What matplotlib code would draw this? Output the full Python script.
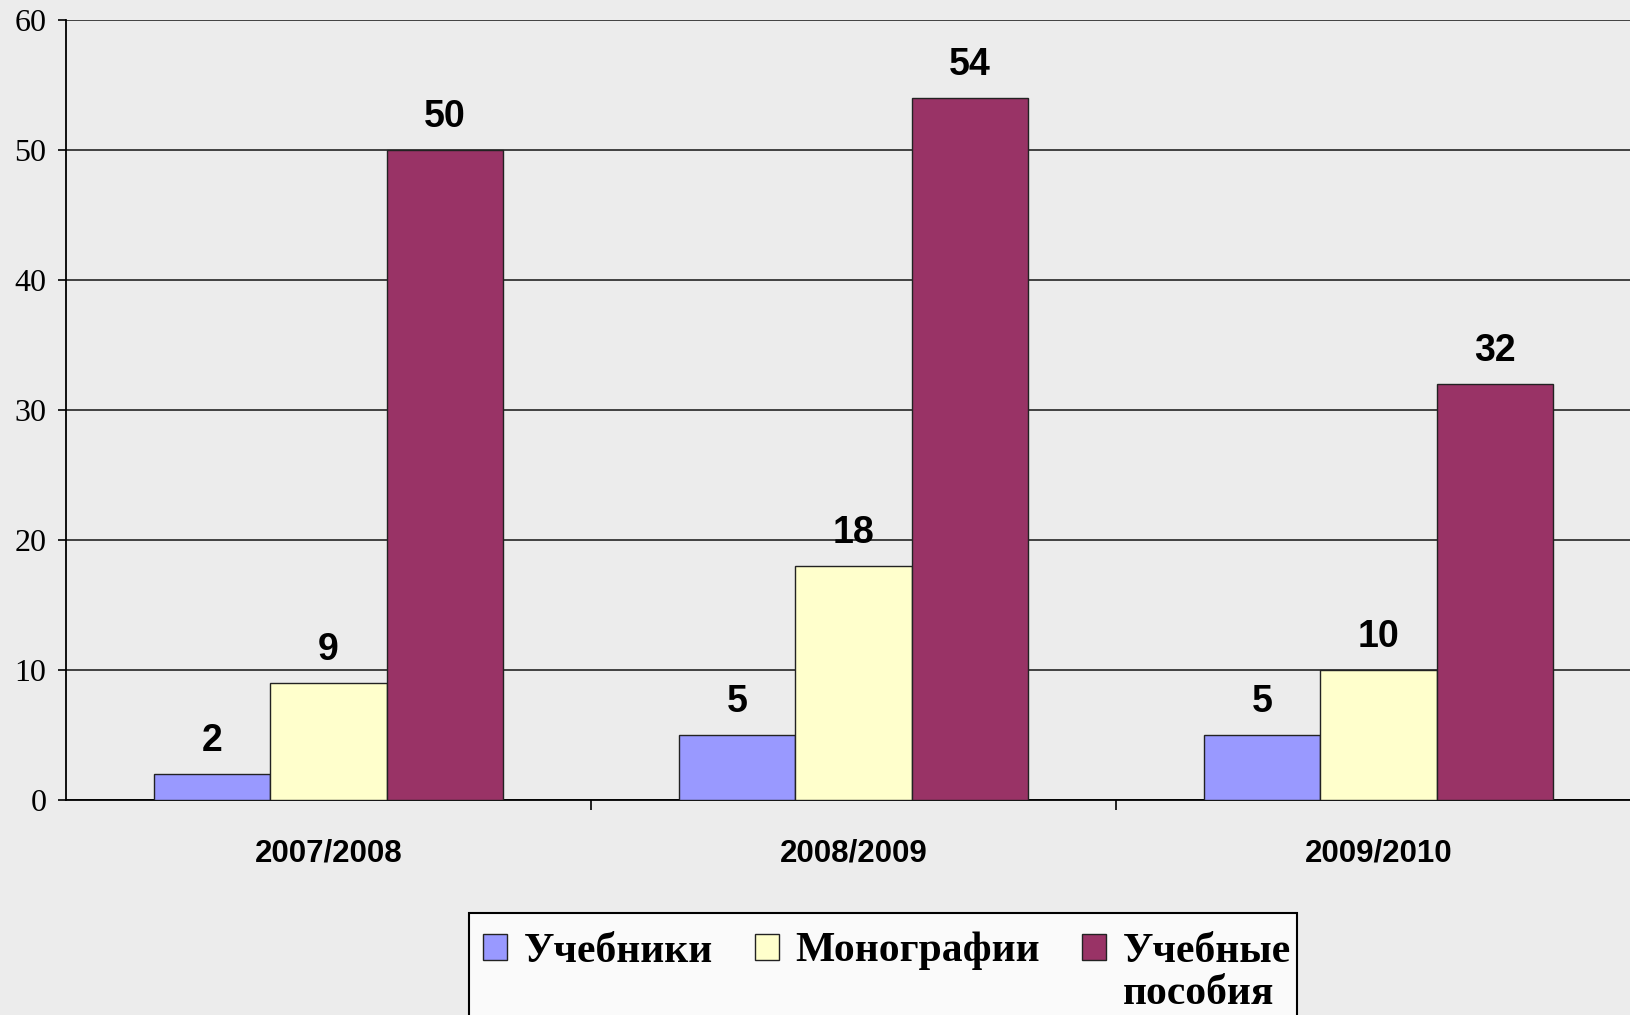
import numpy as np
import matplotlib.pyplot as plt
from matplotlib.ticker import FixedLocator
from matplotlib.patches import Rectangle

# Data
years = ['2007/2008', '2008/2009', '2009/2010']
textbooks = [2, 5, 5]          # Учебники
monographs = [9, 18, 10]       # Монографии
study_guides = [50, 54, 32]    # Учебные пособия

series_names = ['Учебники', 'Монографии', 'Учебные']
series_colors = ['#9999ff', '#ffffcc', '#993366']

W, H = 1630, 1015
fig = plt.figure(figsize=(W / 100, H / 100), dpi=100)
fig.patch.set_facecolor('#ececec')

# axes runs slightly past the right edge, as in the original
ax = fig.add_axes([66 / W, 1 - 800 / H, 1575 / W, 780 / H])
ax.set_facecolor('none')

x = np.arange(len(years))
bw = 0.222
bars = []
for i, (vals, col) in enumerate(zip([textbooks, monographs, study_guides], series_colors)):
    b = ax.bar(x + (i - 1) * bw, vals, bw, color=col, edgecolor='#222222',
               linewidth=1.0, label=series_names[i], zorder=3)
    bars.append(b)
    for rect, v in zip(b, vals):
        ax.annotate(str(v), (rect.get_x() + rect.get_width() / 2, v),
                    xytext=(0, 11), textcoords='offset points',
                    ha='center', va='bottom', fontsize=27, fontweight='bold',
                    family='Liberation Sans', zorder=4)

ax.set_xlim(-0.5, 2.5)
ax.set_ylim(0, 60)
ax.set_yticks(range(0, 61, 10))
ax.yaxis.grid(True, color='#333333', linewidth=1.3, zorder=1)
ax.set_axisbelow(True)

for s in ['top', 'right']:
    ax.spines[s].set_visible(False)
ax.spines['left'].set_linewidth(1.3)
ax.spines['bottom'].set_linewidth(1.3)

ax.tick_params(axis='y', direction='out', length=6, width=1.2, pad=8,
               labelsize=23)
for lab in ax.get_yticklabels():
    lab.set_family('Liberation Serif')

# separators between categories as major ticks, labels on minor ticks
ax.xaxis.set_major_locator(FixedLocator([0.5, 1.5]))
ax.xaxis.set_major_formatter(plt.NullFormatter())
ax.xaxis.set_minor_locator(FixedLocator(x))
ax.set_xticklabels(years, minor=True)
ax.tick_params(axis='x', which='major', direction='out', length=7, width=1.2)
ax.tick_params(axis='x', which='minor', length=0, pad=28, labelsize=22.5)
for lab in ax.get_xticklabels(minor=True):
    lab.set_fontweight('bold')
    lab.set_family('Liberation Sans')

# legend frame runs off the bottom of the picture
frame = Rectangle((469 / W, -0.05), (1297 - 469) / W, 0.05 + 1 - 913 / H,
                  transform=fig.transFigure, facecolor='#fafafa',
                  edgecolor='black', linewidth=1.5, zorder=0)
fig.patches.append(frame)

leg_font = {'family': 'Liberation Serif', 'weight': 'bold', 'size': 30}
leg = fig.legend(handles=bars, labels=series_names, loc='upper left',
                 bbox_to_anchor=(483 / W, 1 - 932 / H), ncol=3,
                 prop=leg_font, frameon=False,
                 handlelength=0.58, handleheight=0.58, handletextpad=0.4,
                 columnspacing=1.0, borderpad=0, borderaxespad=0)

# second line of the third label, under "Учебные"
fig.canvas.draw()
bb = leg.get_texts()[2].get_window_extent()
fig.text(bb.x0 / W, (bb.y0 - 42) / H, 'пособия', ha='left', va='bottom',
         **leg_font)

fig.savefig('out.png', dpi=100, facecolor=fig.get_facecolor())
